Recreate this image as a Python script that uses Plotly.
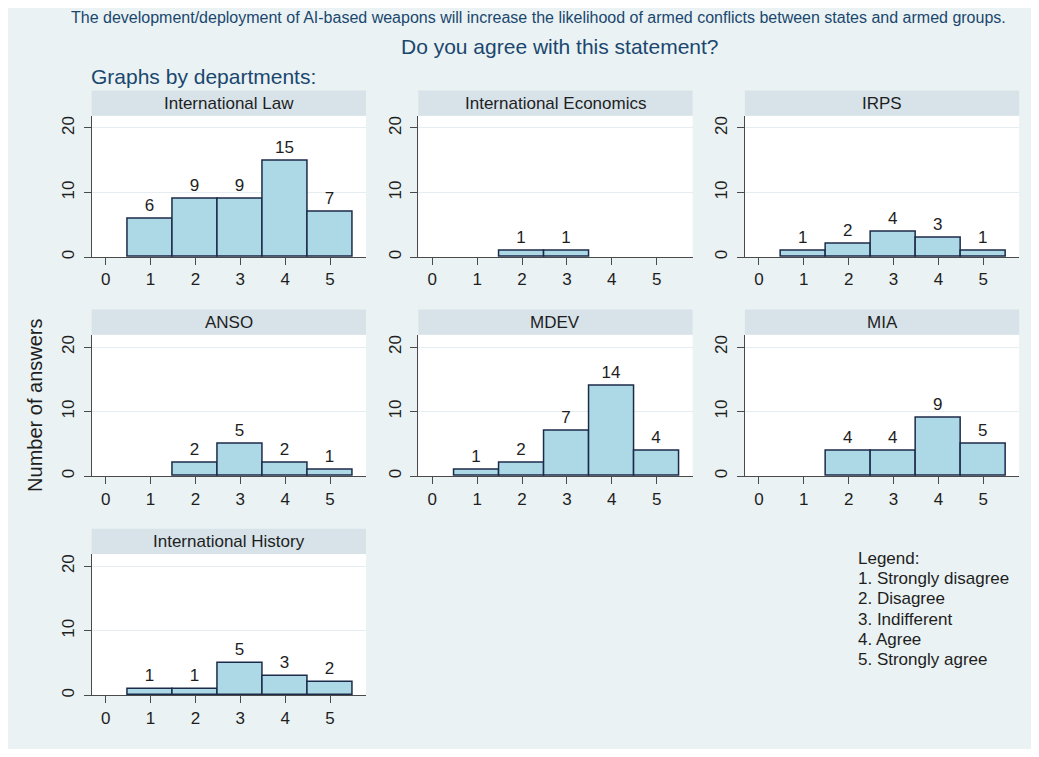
import plotly.graph_objects as go

# Page body has an 8px margin, so the figure is sized to fit the window
OFF = 8
FW, FH = 1039 - 2 * OFF, 757 - 2 * OFF

# ---- data ----
categories = [1, 2, 3, 4, 5]
departments = ["International Law", "International Economics", "IRPS",
               "ANSO", "MDEV", "MIA", "International History"]
law = [6, 9, 9, 15, 7]
econ = [0, 1, 1, 0, 0]
irps = [1, 2, 4, 3, 1]
anso = [0, 2, 5, 2, 1]
mdev = [1, 2, 7, 14, 4]
mia = [0, 4, 4, 9, 5]
history = [1, 1, 5, 3, 2]
x_ticks = [0, 1, 2, 3, 4, 5]
y_ticks = [0, 10, 20]
title_line1 = ("The development/deployment of AI-based weapons will increase the likelihood "
               "of armed conflicts between states and armed groups.")
title_line2 = "Do you agree with this statement?"
caption = "Graphs by departments:"
y_title = "Number of answers"
legend_lines = ["Legend:", "1. Strongly disagree", "2. Disagree", "3. Indifferent",
                "4. Agree", "5. Strongly agree"]

series = [law, econ, irps, anso, mdev, mia, history]

FONT = "Liberation Sans, Arial, Helvetica, sans-serif"
BG = "#eaf2f3"
STRIP = "#d7e3e9"
NAVY = "#1a476f"
AXC = "#4a4a4a"
FILL = "#add8e6"
EDGE = "#1c2a4a"
TXT = "#1e1e1e"


def px(x):
    return (x - OFF) / FW


def py(y):
    return 1 - (y - OFF) / FH


# panel geometry (window pixels)
LEFT0, PW, DX = 91.7, 274.3, 326.6
TOP0, PH, DY = 116.0, 141.7, 219.7
STRIP_H = 25.3

fig = go.Figure()
shapes = []
annotations = []
layout_axes = {}

for i, (name, vals) in enumerate(zip(departments, series)):
    r, c = divmod(i, 3)
    left = LEFT0 + c * DX
    right = left + PW
    top = TOP0 + r * DY
    bottom = top + PH
    sfx = "" if i == 0 else str(i + 1)
    xs = [cat for cat, v in zip(categories, vals) if v > 0]
    ys = [v for v in vals if v > 0]
    fig.add_trace(go.Bar(
        x=xs, y=ys, width=1, text=[str(v) for v in ys], textposition="outside",
        textfont=dict(size=17, color=TXT, family=FONT),
        marker=dict(color=FILL, line=dict(color=EDGE, width=1.5)),
        xaxis="x" + sfx, yaxis="y" + sfx, cliponaxis=False, showlegend=False,
        hoverinfo="skip"))
    layout_axes["xaxis" + sfx] = dict(
        domain=[px(left), px(right)], range=[-0.312, 5.80], tickmode="array",
        tickvals=x_ticks, ticks="outside", ticklen=7, tickcolor=AXC, tickwidth=1,
        showline=True, linecolor=AXC, linewidth=1, showgrid=False, zeroline=False,
        tickfont=dict(size=17, color=TXT, family=FONT), anchor="y" + sfx,
        fixedrange=True)
    layout_axes["yaxis" + sfx] = dict(
        domain=[py(bottom), py(top)], range=[0, 21.9], tickmode="array",
        tickvals=y_ticks, tickangle=-90, ticks="outside", ticklen=7, tickcolor=AXC,
        tickwidth=1, showline=True, linecolor=AXC, linewidth=1, showgrid=True,
        gridcolor="#e5edf0", gridwidth=1, zeroline=False, ticklabelstandoff=3,
        tickfont=dict(size=17, color=TXT, family=FONT), anchor="x" + sfx,
        fixedrange=True)
    shapes.append(dict(type="rect", xref="paper", yref="paper", x0=px(left), x1=px(right),
                       y0=py(top), y1=py(top - STRIP_H), fillcolor=STRIP,
                       line=dict(width=0), layer="below"))
    annotations.append(dict(text=name, xref="paper", yref="paper",
                            x=px((left + right) / 2), y=py(top - STRIP_H / 2),
                            xanchor="center", yanchor="middle", showarrow=False,
                            font=dict(size=17, color=TXT, family=FONT)))

annotations += [
    dict(text=title_line1, xref="paper", yref="paper", x=px(538), y=py(18),
         xanchor="center", yanchor="middle", showarrow=False,
         font=dict(size=16, color=NAVY, family=FONT)),
    dict(text=title_line2, xref="paper", yref="paper", x=px(560), y=py(47),
         xanchor="center", yanchor="middle", showarrow=False,
         font=dict(size=21, color=NAVY, family=FONT)),
    dict(text=caption, xref="paper", yref="paper", x=px(89), y=py(77),
         xanchor="left", yanchor="middle", showarrow=False,
         font=dict(size=21, color=NAVY, family=FONT)),
    dict(text=y_title, xref="paper", yref="paper", x=px(35), y=py(407),
         xanchor="center", yanchor="middle", showarrow=False, textangle=-90,
         font=dict(size=20, color=TXT, family=FONT)),
]
for k, line in enumerate(legend_lines):
    annotations.append(dict(text=line, xref="paper", yref="paper", x=px(856),
                            y=py(559.5 + 20.4 * k), xanchor="left", yanchor="middle",
                            showarrow=False, font=dict(size=17, color=TXT, family=FONT)))

fig.update_layout(
    width=FW, height=FH, margin=dict(l=0, r=0, t=0, b=0, pad=0),
    paper_bgcolor=BG, plot_bgcolor="white", bargap=0,
    shapes=shapes, annotations=annotations, font=dict(family=FONT),
    **layout_axes)

fig.write_html("out.html")
